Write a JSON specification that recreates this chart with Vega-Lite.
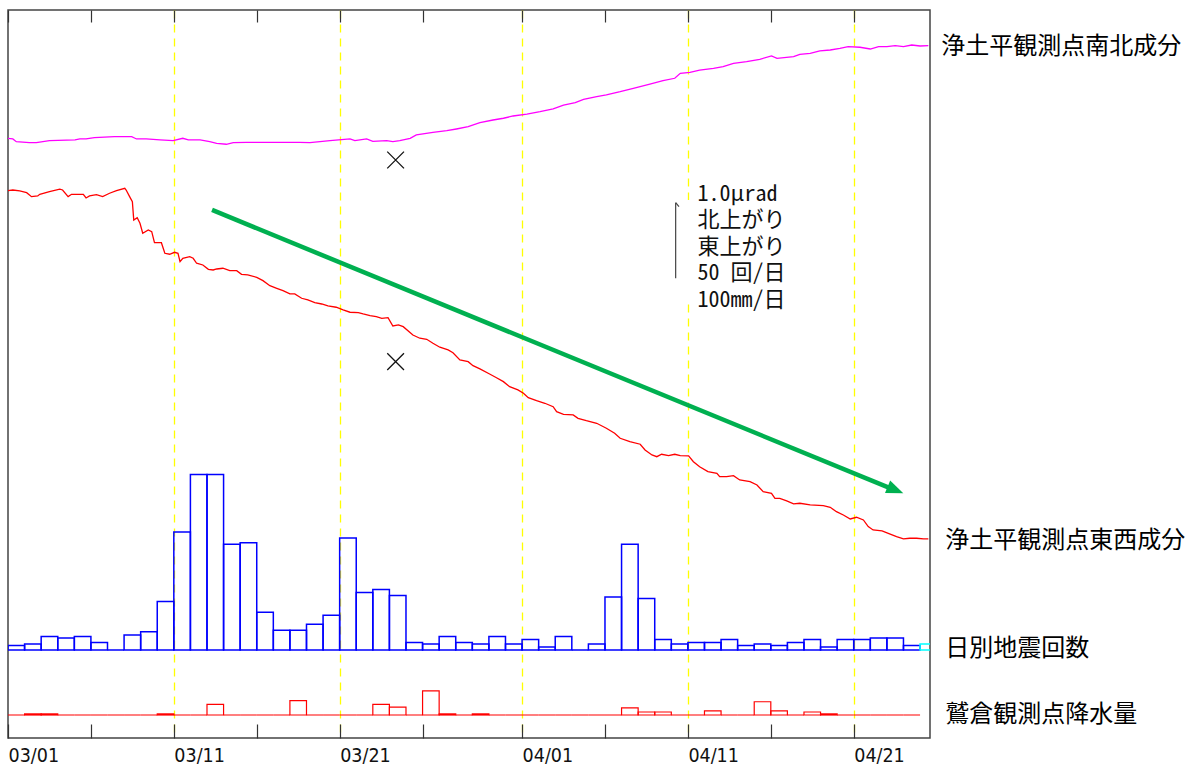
{
  "$schema": "https://vega.github.io/schema/vega-lite/v6.json",
  "width": 922,
  "height": 728,
  "autosize": {"type": "none"},
  "padding": {"left": 8, "top": 10, "right": 260, "bottom": 29},
  "background": "white",
  "config": {"view": {"stroke": "#444", "strokeWidth": 1.5}},
  "resolve": {"scale": {"y": "independent"}, "axis": {"x": "independent"}},
  "datasets": {
    "ns": [
      {"t":"2025-03-01T00:00Z","v":0},{"t":"2025-03-01T07:00Z","v":-0.009},{"t":"2025-03-01T12:00Z","v":-0.045},{"t":"2025-03-02T07:00Z","v":-0.058},{"t":"2025-03-02T17:00Z","v":-0.058},{"t":"2025-03-03T12:00Z","v":-0.032},{"t":"2025-03-05T01:00Z","v":-0.022},{"t":"2025-03-05T08:00Z","v":-0.009},{"t":"2025-03-05T17:00Z","v":-0.009},{"t":"2025-03-06T05:00Z","v":0.008},{"t":"2025-03-07T10:00Z","v":0.021},{"t":"2025-03-08T11:00Z","v":0.021},{"t":"2025-03-08T18:00Z","v":-0.009},{"t":"2025-03-09T08:00Z","v":-0.009},{"t":"2025-03-10T04:00Z","v":-0.022},{"t":"2025-03-10T23:00Z","v":-0.032},{"t":"2025-03-11T13:00Z","v":0},{"t":"2025-03-11T21:00Z","v":-0.022},{"t":"2025-03-12T14:00Z","v":-0.022},{"t":"2025-03-13T04:00Z","v":-0.045},{"t":"2025-03-13T14:00Z","v":-0.066},{"t":"2025-03-14T04:00Z","v":-0.079},{"t":"2025-03-14T14:00Z","v":-0.058},{"t":"2025-03-15T09:00Z","v":-0.053},{"t":"2025-03-17T05:00Z","v":-0.053},{"t":"2025-03-18T14:00Z","v":-0.053},{"t":"2025-03-19T05:00Z","v":-0.058},{"t":"2025-03-20T10:00Z","v":-0.032},{"t":"2025-03-21T15:00Z","v":-0.009},{"t":"2025-03-21T22:00Z","v":-0.032},{"t":"2025-03-22T15:00Z","v":-0.009},{"t":"2025-03-23T00:00Z","v":-0.040},{"t":"2025-03-23T20:00Z","v":-0.032},{"t":"2025-03-24T05:00Z","v":-0.045},{"t":"2025-03-24T15:00Z","v":-0.032},{"t":"2025-03-25T06:00Z","v":0},{"t":"2025-03-25T15:00Z","v":0.044},{"t":"2025-03-26T15:00Z","v":0.079},{"t":"2025-03-27T11:00Z","v":0.101},{"t":"2025-03-28T01:00Z","v":0.123},{"t":"2025-03-28T18:00Z","v":0.153},{"t":"2025-03-29T11:00Z","v":0.206},{"t":"2025-03-30T06:00Z","v":0.242},{"t":"2025-03-30T21:00Z","v":0.265},{"t":"2025-03-31T11:00Z","v":0.295},{"t":"2025-04-01T07:00Z","v":0.321},{"t":"2025-04-02T02:00Z","v":0.352},{"t":"2025-04-02T21:00Z","v":0.388},{"t":"2025-04-03T12:00Z","v":0.440},{"t":"2025-04-04T05:00Z","v":0.471},{"t":"2025-04-04T17:00Z","v":0.516},{"t":"2025-04-05T12:00Z","v":0.550},{"t":"2025-04-06T02:00Z","v":0.573},{"t":"2025-04-06T22:00Z","v":0.616},{"t":"2025-04-07T17:00Z","v":0.661},{"t":"2025-04-08T17:00Z","v":0.718},{"t":"2025-04-09T12:00Z","v":0.762},{"t":"2025-04-10T05:00Z","v":0.794},{"t":"2025-04-10T13:00Z","v":0.860},{"t":"2025-04-11T03:00Z","v":0.873},{"t":"2025-04-11T17:00Z","v":0.903},{"t":"2025-04-12T13:00Z","v":0.926},{"t":"2025-04-13T03:00Z","v":0.947},{"t":"2025-04-13T18:00Z","v":0.992},{"t":"2025-04-14T13:00Z","v":1.013},{"t":"2025-04-15T08:00Z","v":1.045},{"t":"2025-04-16T01:00Z","v":1.089},{"t":"2025-04-16T09:00Z","v":1.058},{"t":"2025-04-17T09:00Z","v":1.079},{"t":"2025-04-17T18:00Z","v":1.111},{"t":"2025-04-18T09:00Z","v":1.124},{"t":"2025-04-18T23:00Z","v":1.155},{"t":"2025-04-19T14:00Z","v":1.168},{"t":"2025-04-20T04:00Z","v":1.190},{"t":"2025-04-20T16:00Z","v":1.212},{"t":"2025-04-21T09:00Z","v":1.204},{"t":"2025-04-22T00:00Z","v":1.181},{"t":"2025-04-22T12:00Z","v":1.212},{"t":"2025-04-23T00:00Z","v":1.212},{"t":"2025-04-23T12:00Z","v":1.225},{"t":"2025-04-24T00:00Z","v":1.212},{"t":"2025-04-24T12:00Z","v":1.234},{"t":"2025-04-25T00:00Z","v":1.221},{"t":"2025-04-25T12:00Z","v":1.225}
    ],
    "ew": [
      {"t":"2025-03-01T00:00Z","v":0},{"t":"2025-03-01T07:00Z","v":0.009},{"t":"2025-03-01T17:00Z","v":-0.004},{"t":"2025-03-02T03:00Z","v":-0.026},{"t":"2025-03-02T10:00Z","v":-0.079},{"t":"2025-03-02T19:00Z","v":-0.070},{"t":"2025-03-02T22:00Z","v":-0.048},{"t":"2025-03-03T12:00Z","v":-0.013},{"t":"2025-03-04T03:00Z","v":0.019},{"t":"2025-03-04T07:00Z","v":0.009},{"t":"2025-03-04T15:00Z","v":-0.079},{"t":"2025-03-04T20:00Z","v":-0.048},{"t":"2025-03-05T13:00Z","v":-0.048},{"t":"2025-03-05T17:00Z","v":-0.097},{"t":"2025-03-05T22:00Z","v":-0.070},{"t":"2025-03-06T08:00Z","v":-0.053},{"t":"2025-03-06T17:00Z","v":-0.079},{"t":"2025-03-07T03:00Z","v":-0.034},{"t":"2025-03-07T13:00Z","v":0},{"t":"2025-03-08T01:00Z","v":0.032},{"t":"2025-03-08T03:00Z","v":0.009},{"t":"2025-03-08T08:00Z","v":-0.079},{"t":"2025-03-08T12:00Z","v":-0.146},{"t":"2025-03-08T14:00Z","v":-0.388},{"t":"2025-03-08T19:00Z","v":-0.357},{"t":"2025-03-08T23:00Z","v":-0.431},{"t":"2025-03-09T03:00Z","v":-0.563},{"t":"2025-03-09T11:00Z","v":-0.520},{"t":"2025-03-09T16:00Z","v":-0.542},{"t":"2025-03-09T20:00Z","v":-0.688},{"t":"2025-03-10T06:00Z","v":-0.688},{"t":"2025-03-10T11:00Z","v":-0.828},{"t":"2025-03-10T18:00Z","v":-0.841},{"t":"2025-03-11T01:00Z","v":-0.815},{"t":"2025-03-11T06:00Z","v":-0.828},{"t":"2025-03-11T09:00Z","v":-0.939},{"t":"2025-03-11T13:00Z","v":-0.894},{"t":"2025-03-11T23:00Z","v":-0.873},{"t":"2025-03-12T04:00Z","v":-0.894},{"t":"2025-03-12T09:00Z","v":-0.960},{"t":"2025-03-12T18:00Z","v":-0.983},{"t":"2025-03-13T02:00Z","v":-1.040},{"t":"2025-03-13T09:00Z","v":-1.049},{"t":"2025-03-13T14:00Z","v":-1.036},{"t":"2025-03-13T23:00Z","v":-1.026},{"t":"2025-03-14T09:00Z","v":-1.058},{"t":"2025-03-14T19:00Z","v":-1.058},{"t":"2025-03-15T02:00Z","v":-1.106},{"t":"2025-03-15T11:00Z","v":-1.115},{"t":"2025-03-16T00:00Z","v":-1.146},{"t":"2025-03-16T09:00Z","v":-1.190},{"t":"2025-03-16T19:00Z","v":-1.257},{"t":"2025-03-17T05:00Z","v":-1.291},{"t":"2025-03-17T14:00Z","v":-1.323},{"t":"2025-03-18T00:00Z","v":-1.366},{"t":"2025-03-18T07:00Z","v":-1.366},{"t":"2025-03-18T17:00Z","v":-1.423},{"t":"2025-03-19T02:00Z","v":-1.446},{"t":"2025-03-19T12:00Z","v":-1.481},{"t":"2025-03-19T22:00Z","v":-1.499},{"t":"2025-03-20T07:00Z","v":-1.525},{"t":"2025-03-20T19:00Z","v":-1.542},{"t":"2025-03-21T05:00Z","v":-1.578},{"t":"2025-03-21T15:00Z","v":-1.608},{"t":"2025-03-22T03:00Z","v":-1.614},{"t":"2025-03-22T10:00Z","v":-1.631},{"t":"2025-03-22T20:00Z","v":-1.653},{"t":"2025-03-23T05:00Z","v":-1.667},{"t":"2025-03-23T13:00Z","v":-1.688},{"t":"2025-03-23T22:00Z","v":-1.680},{"t":"2025-03-24T05:00Z","v":-1.790},{"t":"2025-03-24T13:00Z","v":-1.776},{"t":"2025-03-24T20:00Z","v":-1.799},{"t":"2025-03-25T10:00Z","v":-1.909},{"t":"2025-03-25T20:00Z","v":-1.952},{"t":"2025-03-26T06:00Z","v":-1.966},{"t":"2025-03-26T15:00Z","v":-2.019},{"t":"2025-03-27T01:00Z","v":-2.071},{"t":"2025-03-27T13:00Z","v":-2.107},{"t":"2025-03-27T20:00Z","v":-2.143},{"t":"2025-03-28T06:00Z","v":-2.239},{"t":"2025-03-28T18:00Z","v":-2.262},{"t":"2025-03-29T01:00Z","v":-2.315},{"t":"2025-03-29T11:00Z","v":-2.358},{"t":"2025-03-30T01:00Z","v":-2.425},{"t":"2025-03-30T11:00Z","v":-2.474},{"t":"2025-03-30T21:00Z","v":-2.526},{"t":"2025-03-31T06:00Z","v":-2.593},{"t":"2025-03-31T18:00Z","v":-2.636},{"t":"2025-04-01T02:00Z","v":-2.680},{"t":"2025-04-01T09:00Z","v":-2.738},{"t":"2025-04-01T21:00Z","v":-2.778},{"t":"2025-04-02T09:00Z","v":-2.812},{"t":"2025-04-02T21:00Z","v":-2.857},{"t":"2025-04-03T02:00Z","v":-2.923},{"t":"2025-04-03T12:00Z","v":-2.958},{"t":"2025-04-04T02:00Z","v":-2.967},{"t":"2025-04-04T09:00Z","v":-3.011},{"t":"2025-04-04T21:00Z","v":-3.042},{"t":"2025-04-05T12:00Z","v":-3.077},{"t":"2025-04-06T02:00Z","v":-3.143},{"t":"2025-04-06T14:00Z","v":-3.209},{"t":"2025-04-06T22:00Z","v":-3.275},{"t":"2025-04-07T12:00Z","v":-3.320},{"t":"2025-04-08T03:00Z","v":-3.354},{"t":"2025-04-08T10:00Z","v":-3.430},{"t":"2025-04-08T20:00Z","v":-3.496},{"t":"2025-04-09T03:00Z","v":-3.519},{"t":"2025-04-09T10:00Z","v":-3.487},{"t":"2025-04-09T20:00Z","v":-3.505},{"t":"2025-04-10T05:00Z","v":-3.487},{"t":"2025-04-10T13:00Z","v":-3.505},{"t":"2025-04-11T01:00Z","v":-3.509},{"t":"2025-04-11T08:00Z","v":-3.585},{"t":"2025-04-11T17:00Z","v":-3.651},{"t":"2025-04-12T05:00Z","v":-3.717},{"t":"2025-04-12T18:00Z","v":-3.738},{"t":"2025-04-12T22:00Z","v":-3.783},{"t":"2025-04-13T08:00Z","v":-3.783},{"t":"2025-04-13T18:00Z","v":-3.770},{"t":"2025-04-14T03:00Z","v":-3.827},{"t":"2025-04-14T18:00Z","v":-3.849},{"t":"2025-04-15T04:00Z","v":-3.893},{"t":"2025-04-15T13:00Z","v":-3.981},{"t":"2025-04-16T01:00Z","v":-4.003},{"t":"2025-04-16T06:00Z","v":-4.069},{"t":"2025-04-16T13:00Z","v":-4.069},{"t":"2025-04-16T23:00Z","v":-4.104},{"t":"2025-04-17T09:00Z","v":-4.144},{"t":"2025-04-17T18:00Z","v":-4.135},{"t":"2025-04-18T09:00Z","v":-4.157},{"t":"2025-04-19T04:00Z","v":-4.167},{"t":"2025-04-19T14:00Z","v":-4.188},{"t":"2025-04-19T23:00Z","v":-4.246},{"t":"2025-04-20T09:00Z","v":-4.290},{"t":"2025-04-20T19:00Z","v":-4.343},{"t":"2025-04-21T04:00Z","v":-4.320},{"t":"2025-04-21T14:00Z","v":-4.356},{"t":"2025-04-21T21:00Z","v":-4.444},{"t":"2025-04-22T04:00Z","v":-4.488},{"t":"2025-04-22T17:00Z","v":-4.501},{"t":"2025-04-23T02:00Z","v":-4.532},{"t":"2025-04-23T14:00Z","v":-4.577},{"t":"2025-04-24T00:00Z","v":-4.607},{"t":"2025-04-24T09:00Z","v":-4.598},{"t":"2025-04-24T19:00Z","v":-4.598},{"t":"2025-04-25T05:00Z","v":-4.607},{"t":"2025-04-25T12:00Z","v":-4.607}
    ],
    "quakes": [
      {"t":"2025-03-01","t2":"2025-03-02","count":3},{"t":"2025-03-02","t2":"2025-03-03","count":4},{"t":"2025-03-03","t2":"2025-03-04","count":9},{"t":"2025-03-04","t2":"2025-03-05","count":8},{"t":"2025-03-05","t2":"2025-03-06","count":9},{"t":"2025-03-06","t2":"2025-03-07","count":5},{"t":"2025-03-07","t2":"2025-03-08","count":0},{"t":"2025-03-08","t2":"2025-03-09","count":10},{"t":"2025-03-09","t2":"2025-03-10","count":12},{"t":"2025-03-10","t2":"2025-03-11","count":32},{"t":"2025-03-11","t2":"2025-03-12","count":78},{"t":"2025-03-12","t2":"2025-03-13","count":116},{"t":"2025-03-13","t2":"2025-03-14","count":116},{"t":"2025-03-14","t2":"2025-03-15","count":70},{"t":"2025-03-15","t2":"2025-03-16","count":71},{"t":"2025-03-16","t2":"2025-03-17","count":25},{"t":"2025-03-17","t2":"2025-03-18","count":13},{"t":"2025-03-18","t2":"2025-03-19","count":13},{"t":"2025-03-19","t2":"2025-03-20","count":17},{"t":"2025-03-20","t2":"2025-03-21","count":23},{"t":"2025-03-21","t2":"2025-03-22","count":74},{"t":"2025-03-22","t2":"2025-03-23","count":38},{"t":"2025-03-23","t2":"2025-03-24","count":40},{"t":"2025-03-24","t2":"2025-03-25","count":36},{"t":"2025-03-25","t2":"2025-03-26","count":5},{"t":"2025-03-26","t2":"2025-03-27","count":4},{"t":"2025-03-27","t2":"2025-03-28","count":9},{"t":"2025-03-28","t2":"2025-03-29","count":5},{"t":"2025-03-29","t2":"2025-03-30","count":4},{"t":"2025-03-30","t2":"2025-03-31","count":9},{"t":"2025-03-31","t2":"2025-04-01","count":4},{"t":"2025-04-01","t2":"2025-04-02","count":7},{"t":"2025-04-02","t2":"2025-04-03","count":2},{"t":"2025-04-03","t2":"2025-04-04","count":9},{"t":"2025-04-04","t2":"2025-04-05","count":0},{"t":"2025-04-05","t2":"2025-04-06","count":4},{"t":"2025-04-06","t2":"2025-04-07","count":35},{"t":"2025-04-07","t2":"2025-04-08","count":70},{"t":"2025-04-08","t2":"2025-04-09","count":34},{"t":"2025-04-09","t2":"2025-04-10","count":7},{"t":"2025-04-10","t2":"2025-04-11","count":4},{"t":"2025-04-11","t2":"2025-04-12","count":5},{"t":"2025-04-12","t2":"2025-04-13","count":5},{"t":"2025-04-13","t2":"2025-04-14","count":7},{"t":"2025-04-14","t2":"2025-04-15","count":3},{"t":"2025-04-15","t2":"2025-04-16","count":4},{"t":"2025-04-16","t2":"2025-04-17","count":3},{"t":"2025-04-17","t2":"2025-04-18","count":5},{"t":"2025-04-18","t2":"2025-04-19","count":7},{"t":"2025-04-19","t2":"2025-04-20","count":2},{"t":"2025-04-20","t2":"2025-04-21","count":7},{"t":"2025-04-21","t2":"2025-04-22","count":7},{"t":"2025-04-22","t2":"2025-04-23","count":8},{"t":"2025-04-23","t2":"2025-04-24","count":8},{"t":"2025-04-24","t2":"2025-04-25","count":3},{"t":"2025-04-25","t2":"2025-04-26","count":4,"partial":true}
    ],
    "rain": [
      {"t":"2025-03-01","t2":"2025-03-02","mm":0},{"t":"2025-03-02","t2":"2025-03-03","mm":1.5},{"t":"2025-03-03","t2":"2025-03-04","mm":1.5},{"t":"2025-03-04","t2":"2025-03-05","mm":0},{"t":"2025-03-05","t2":"2025-03-06","mm":0},{"t":"2025-03-06","t2":"2025-03-07","mm":0},{"t":"2025-03-07","t2":"2025-03-08","mm":0},{"t":"2025-03-08","t2":"2025-03-09","mm":0},{"t":"2025-03-09","t2":"2025-03-10","mm":0},{"t":"2025-03-10","t2":"2025-03-11","mm":1.5},{"t":"2025-03-11","t2":"2025-03-12","mm":0},{"t":"2025-03-12","t2":"2025-03-13","mm":0},{"t":"2025-03-13","t2":"2025-03-14","mm":14},{"t":"2025-03-14","t2":"2025-03-15","mm":0},{"t":"2025-03-15","t2":"2025-03-16","mm":0},{"t":"2025-03-16","t2":"2025-03-17","mm":0},{"t":"2025-03-17","t2":"2025-03-18","mm":0},{"t":"2025-03-18","t2":"2025-03-19","mm":19},{"t":"2025-03-19","t2":"2025-03-20","mm":0},{"t":"2025-03-20","t2":"2025-03-21","mm":0},{"t":"2025-03-21","t2":"2025-03-22","mm":0},{"t":"2025-03-22","t2":"2025-03-23","mm":0},{"t":"2025-03-23","t2":"2025-03-24","mm":14},{"t":"2025-03-24","t2":"2025-03-25","mm":10.5},{"t":"2025-03-25","t2":"2025-03-26","mm":0},{"t":"2025-03-26","t2":"2025-03-27","mm":32},{"t":"2025-03-27","t2":"2025-03-28","mm":1.5},{"t":"2025-03-28","t2":"2025-03-29","mm":0},{"t":"2025-03-29","t2":"2025-03-30","mm":1.5},{"t":"2025-03-30","t2":"2025-03-31","mm":0},{"t":"2025-03-31","t2":"2025-04-01","mm":0},{"t":"2025-04-01","t2":"2025-04-02","mm":0},{"t":"2025-04-02","t2":"2025-04-03","mm":0},{"t":"2025-04-03","t2":"2025-04-04","mm":0},{"t":"2025-04-04","t2":"2025-04-05","mm":0},{"t":"2025-04-05","t2":"2025-04-06","mm":0},{"t":"2025-04-06","t2":"2025-04-07","mm":0},{"t":"2025-04-07","t2":"2025-04-08","mm":9.5},{"t":"2025-04-08","t2":"2025-04-09","mm":4},{"t":"2025-04-09","t2":"2025-04-10","mm":4},{"t":"2025-04-10","t2":"2025-04-11","mm":0},{"t":"2025-04-11","t2":"2025-04-12","mm":0},{"t":"2025-04-12","t2":"2025-04-13","mm":5.5},{"t":"2025-04-13","t2":"2025-04-14","mm":0},{"t":"2025-04-14","t2":"2025-04-15","mm":0},{"t":"2025-04-15","t2":"2025-04-16","mm":17.5},{"t":"2025-04-16","t2":"2025-04-17","mm":5.5},{"t":"2025-04-17","t2":"2025-04-18","mm":0},{"t":"2025-04-18","t2":"2025-04-19","mm":4},{"t":"2025-04-19","t2":"2025-04-20","mm":1.5},{"t":"2025-04-20","t2":"2025-04-21","mm":0},{"t":"2025-04-21","t2":"2025-04-22","mm":0},{"t":"2025-04-22","t2":"2025-04-23","mm":0},{"t":"2025-04-23","t2":"2025-04-24","mm":0},{"t":"2025-04-24","t2":"2025-04-25","mm":0}
    ]
  },
  "layer": [
    {
      "data": {"name": "ns"},
      "mark": {"type": "line", "color": "#ff00ff", "strokeWidth": 1.3},
      "encoding": {
        "x": {"field": "t", "type": "temporal",
          "scale": {"type": "utc", "nice": false, "domain": [{"year":2025,"month":3,"date":1,"utc":true},{"year":2025,"month":4,"date":25,"hours":14,"minutes":24,"utc":true}]},
          "axis": {"orient": "top", "offset": -12, "tickSize": 12, "tickColor": "#333", "tickWidth": 1.2, "labels": false, "domain": false, "grid": false, "title": null,
            "values": [{"year":2025,"month":3,"date":1,"utc":true},{"year":2025,"month":3,"date":6,"utc":true},{"year":2025,"month":3,"date":11,"utc":true},{"year":2025,"month":3,"date":16,"utc":true},{"year":2025,"month":3,"date":21,"utc":true},{"year":2025,"month":3,"date":26,"utc":true},{"year":2025,"month":4,"date":1,"utc":true},{"year":2025,"month":4,"date":6,"utc":true},{"year":2025,"month":4,"date":11,"utc":true},{"year":2025,"month":4,"date":16,"utc":true},{"year":2025,"month":4,"date":21,"utc":true}]}},
        "y": {"field": "v", "type": "quantitative", "scale": {"domain": [-7.933, 1.697], "nice": false, "zero": false}, "axis": null}
      }
    },
    {
      "data": {"name": "ew"},
      "mark": {"type": "line", "color": "#ff0000", "strokeWidth": 1.3},
      "encoding": {
        "x": {"field": "t", "type": "temporal",
          "scale": {"type": "utc", "nice": false, "domain": [{"year":2025,"month":3,"date":1,"utc":true},{"year":2025,"month":4,"date":25,"hours":14,"minutes":24,"utc":true}]},
          "axis": {"orient": "bottom", "offset": -14, "tickSize": 14, "tickColor": "#333", "tickWidth": 1.2, "domain": false, "title": null,
            "labelExpr": "(utcdate(datum.value)-1)%10==0 ? utcFormat(datum.value,'%m/%d') : ''",
            "labelAlign": "left", "labelBaseline": "top", "labelPadding": 8, "labelFont": "DejaVu Sans Condensed, DejaVu Sans, sans-serif", "labelFontSize": 19.5, "labelColor": "#111", "labelOverlap": false, "labelFlush": false, "labelBound": false,
            "grid": true, "gridColor": "#ffff00", "gridDash": [8, 6], "gridWidth": 1.3,
            "gridOpacity": {"condition": {"test": "(utcdate(datum.value)-1)%10==0 && (utcmonth(datum.value)==3 || utcdate(datum.value)>1)", "value": 1}, "value": 0},
            "values": [{"year":2025,"month":3,"date":1,"utc":true},{"year":2025,"month":3,"date":6,"utc":true},{"year":2025,"month":3,"date":11,"utc":true},{"year":2025,"month":3,"date":16,"utc":true},{"year":2025,"month":3,"date":21,"utc":true},{"year":2025,"month":3,"date":26,"utc":true},{"year":2025,"month":4,"date":1,"utc":true},{"year":2025,"month":4,"date":6,"utc":true},{"year":2025,"month":4,"date":11,"utc":true},{"year":2025,"month":4,"date":16,"utc":true},{"year":2025,"month":4,"date":21,"utc":true}]}},
        "y": {"field": "v", "type": "quantitative", "scale": {"domain": [-7.24, 2.39], "nice": false, "zero": false}, "axis": null}
      }
    },
    {
      "data": {"name": "quakes"},
      "mark": {"type": "rect", "fill": "transparent", "strokeWidth": 1.5, "clip": true},
      "encoding": {
        "x": {"field": "t", "type": "temporal", "scale": {"type": "utc", "nice": false, "domain": [{"year":2025,"month":3,"date":1,"utc":true},{"year":2025,"month":4,"date":25,"hours":14,"minutes":24,"utc":true}]}, "axis": null},
        "x2": {"field": "t2"},
        "y": {"field": "count", "type": "quantitative", "scale": {"domain": [-58.2, 423.28], "nice": false, "zero": false}, "axis": null},
        "y2": {"datum": 0},
        "stroke": {"condition": {"test": "datum.partial", "value": "#00ffff"}, "value": "#0000ff"}
      }
    },
    {
      "data": {"name": "rain"},
      "mark": {"type": "rect", "fill": "transparent", "stroke": "#ff0000", "strokeWidth": 1.2},
      "encoding": {
        "x": {"field": "t", "type": "temporal", "scale": {"type": "utc", "nice": false, "domain": [{"year":2025,"month":3,"date":1,"utc":true},{"year":2025,"month":4,"date":25,"hours":14,"minutes":24,"utc":true}]}, "axis": null},
        "x2": {"field": "t2"},
        "y": {"field": "mm", "type": "quantitative", "scale": {"domain": [-30.42, 932.54], "nice": false, "zero": false}, "axis": null},
        "y2": {"datum": 0}
      }
    },
    {
      "data": {"values": [{"t": "2025-04-25T12:00Z", "v": 1.225, "label": "浄土平観測点南北成分"}]},
      "mark": {"type": "text", "align": "left", "baseline": "middle", "dx": 13, "dy": 1, "font": "Noto Sans CJK JP", "fontSize": 24, "color": "#000"},
      "encoding": {
        "x": {"field": "t", "type": "temporal", "scale": {"type": "utc", "nice": false, "domain": [{"year":2025,"month":3,"date":1,"utc":true},{"year":2025,"month":4,"date":25,"hours":14,"minutes":24,"utc":true}]}, "axis": null},
        "y": {"field": "v", "type": "quantitative", "scale": {"domain": [-7.933, 1.697], "nice": false, "zero": false}, "axis": null},
        "text": {"field": "label"}
      }
    },
    {
      "data": {"values": [{"t": "2025-04-25T12:00Z", "v": -4.607, "label": "浄土平観測点東西成分"}]},
      "mark": {"type": "text", "align": "left", "baseline": "middle", "dx": 17, "dy": 2, "font": "Noto Sans CJK JP", "fontSize": 24, "color": "#000"},
      "encoding": {
        "x": {"field": "t", "type": "temporal", "scale": {"type": "utc", "nice": false, "domain": [{"year":2025,"month":3,"date":1,"utc":true},{"year":2025,"month":4,"date":25,"hours":14,"minutes":24,"utc":true}]}, "axis": null},
        "y": {"field": "v", "type": "quantitative", "scale": {"domain": [-7.24, 2.39], "nice": false, "zero": false}, "axis": null},
        "text": {"field": "label"}
      }
    },
    {
      "data": {"values": [{"t": "2025-04-25T12:00Z", "count": 0, "label": "日別地震回数"}]},
      "mark": {"type": "text", "align": "left", "baseline": "middle", "dx": 17, "dy": -1, "font": "Noto Sans CJK JP", "fontSize": 24, "color": "#000"},
      "encoding": {
        "x": {"field": "t", "type": "temporal", "scale": {"type": "utc", "nice": false, "domain": [{"year":2025,"month":3,"date":1,"utc":true},{"year":2025,"month":4,"date":25,"hours":14,"minutes":24,"utc":true}]}, "axis": null},
        "y": {"field": "count", "type": "quantitative", "scale": {"domain": [-58.2, 423.28], "nice": false, "zero": false}, "axis": null},
        "text": {"field": "label"}
      }
    },
    {
      "data": {"values": [{"t": "2025-04-25T12:00Z", "mm": 0, "label": "鷲倉観測点降水量"}]},
      "mark": {"type": "text", "align": "left", "baseline": "middle", "dx": 17, "dy": 0, "font": "Noto Sans CJK JP", "fontSize": 24, "color": "#000"},
      "encoding": {
        "x": {"field": "t", "type": "temporal", "scale": {"type": "utc", "nice": false, "domain": [{"year":2025,"month":3,"date":1,"utc":true},{"year":2025,"month":4,"date":25,"hours":14,"minutes":24,"utc":true}]}, "axis": null},
        "y": {"field": "mm", "type": "quantitative", "scale": {"domain": [-30.42, 932.54], "nice": false, "zero": false}, "axis": null},
        "text": {"field": "label"}
      }
    },
    {
      "data": {"values": [{"t": "2025-03-24T09:00Z", "v": -0.287}]},
      "mark": {"type": "point", "shape": "M-1,-1L1,1M-1,1L1,-1", "filled": false, "stroke": "#111", "strokeWidth": 1.3, "size": 280, "opacity": 1},
      "encoding": {
        "x": {"field": "t", "type": "temporal", "scale": {"type": "utc", "nice": false, "domain": [{"year":2025,"month":3,"date":1,"utc":true},{"year":2025,"month":4,"date":25,"hours":14,"minutes":24,"utc":true}]}, "axis": null},
        "y": {"field": "v", "type": "quantitative", "scale": {"domain": [-7.933, 1.697], "nice": false, "zero": false}, "axis": null}
      }
    },
    {
      "data": {"values": [{"t": "2025-03-24T09:00Z", "v": -2.262}]},
      "mark": {"type": "point", "shape": "M-1,-1L1,1M-1,1L1,-1", "filled": false, "stroke": "#111", "strokeWidth": 1.3, "size": 280, "opacity": 1},
      "encoding": {
        "x": {"field": "t", "type": "temporal", "scale": {"type": "utc", "nice": false, "domain": [{"year":2025,"month":3,"date":1,"utc":true},{"year":2025,"month":4,"date":25,"hours":14,"minutes":24,"utc":true}]}, "axis": null},
        "y": {"field": "v", "type": "quantitative", "scale": {"domain": [-7.24, 2.39], "nice": false, "zero": false}, "axis": null}
      }
    },
    {
      "data": {"values": [{"t": "2025-04-10T22:00Z", "t2": "2025-04-17T12:00Z", "v": -0.123, "v2": -1.446}]},
      "mark": {"type": "rect", "fill": "white", "strokeWidth": 0},
      "encoding": {
        "x": {"field": "t", "type": "temporal", "scale": {"type": "utc", "nice": false, "domain": [{"year":2025,"month":3,"date":1,"utc":true},{"year":2025,"month":4,"date":25,"hours":14,"minutes":24,"utc":true}]}, "axis": null},
        "x2": {"field": "t2"},
        "y": {"field": "v", "type": "quantitative", "scale": {"domain": [-7.24, 2.39], "nice": false, "zero": false}, "axis": null},
        "y2": {"field": "v2"}
      }
    },
    {
      "data": {"values": [
        {"t": "2025-04-10T06:18Z", "t2": "2025-04-10T06:18Z", "v": -0.159, "v2": -1.159},
        {"t": "2025-04-10T06:18Z", "t2": "2025-04-10T11:06Z", "v": -0.159, "v2": -0.212}
      ]},
      "mark": {"type": "rule", "color": "#444", "strokeWidth": 1.2},
      "encoding": {
        "x": {"field": "t", "type": "temporal", "scale": {"type": "utc", "nice": false, "domain": [{"year":2025,"month":3,"date":1,"utc":true},{"year":2025,"month":4,"date":25,"hours":14,"minutes":24,"utc":true}]}, "axis": null},
        "x2": {"field": "t2"},
        "y": {"field": "v", "type": "quantitative", "scale": {"domain": [-7.24, 2.39], "nice": false, "zero": false}, "axis": null},
        "y2": {"field": "v2"}
      }
    },
    {
      "data": {"values": [{"t": "2025-04-11T14:00Z", "v": 0.089, "label": "1.0μrad\n北上がり\n東上がり\n50 回/日\n100mm/日"}]},
      "mark": {"type": "text", "align": "left", "baseline": "top", "lineBreak": "\n", "lineHeight": 26.5, "font": "Noto Sans Mono CJK JP, Noto Sans CJK JP", "fontSize": 22, "color": "#111"},
      "encoding": {
        "x": {"field": "t", "type": "temporal", "scale": {"type": "utc", "nice": false, "domain": [{"year":2025,"month":3,"date":1,"utc":true},{"year":2025,"month":4,"date":25,"hours":14,"minutes":24,"utc":true}]}, "axis": null},
        "y": {"field": "v", "type": "quantitative", "scale": {"domain": [-7.24, 2.39], "nice": false, "zero": false}, "axis": null},
        "text": {"field": "label"}
      }
    },
    {
      "data": {"values": [{"t": "2025-03-13T07:18Z", "t2": "2025-04-23T04:36Z", "v": -0.255, "v2": -3.935}]},
      "mark": {"type": "rule", "color": "#00b050", "strokeWidth": 4.5},
      "encoding": {
        "x": {"field": "t", "type": "temporal", "scale": {"type": "utc", "nice": false, "domain": [{"year":2025,"month":3,"date":1,"utc":true},{"year":2025,"month":4,"date":25,"hours":14,"minutes":24,"utc":true}]}, "axis": null},
        "x2": {"field": "t2"},
        "y": {"field": "v", "type": "quantitative", "scale": {"domain": [-7.24, 2.39], "nice": false, "zero": false}, "axis": null},
        "y2": {"field": "v2"}
      }
    },
    {
      "data": {"values": [{"t": "2025-04-23T12:24Z", "v": -3.96}]},
      "mark": {"type": "point", "shape": "M1,0L-1,-0.8L-1,0.8Z", "filled": true, "color": "#00b050", "size": 289, "angle": 22.3, "opacity": 1, "strokeWidth": 0},
      "encoding": {
        "x": {"field": "t", "type": "temporal", "scale": {"type": "utc", "nice": false, "domain": [{"year":2025,"month":3,"date":1,"utc":true},{"year":2025,"month":4,"date":25,"hours":14,"minutes":24,"utc":true}]}, "axis": null},
        "y": {"field": "v", "type": "quantitative", "scale": {"domain": [-7.24, 2.39], "nice": false, "zero": false}, "axis": null}
      }
    }
  ]
}
